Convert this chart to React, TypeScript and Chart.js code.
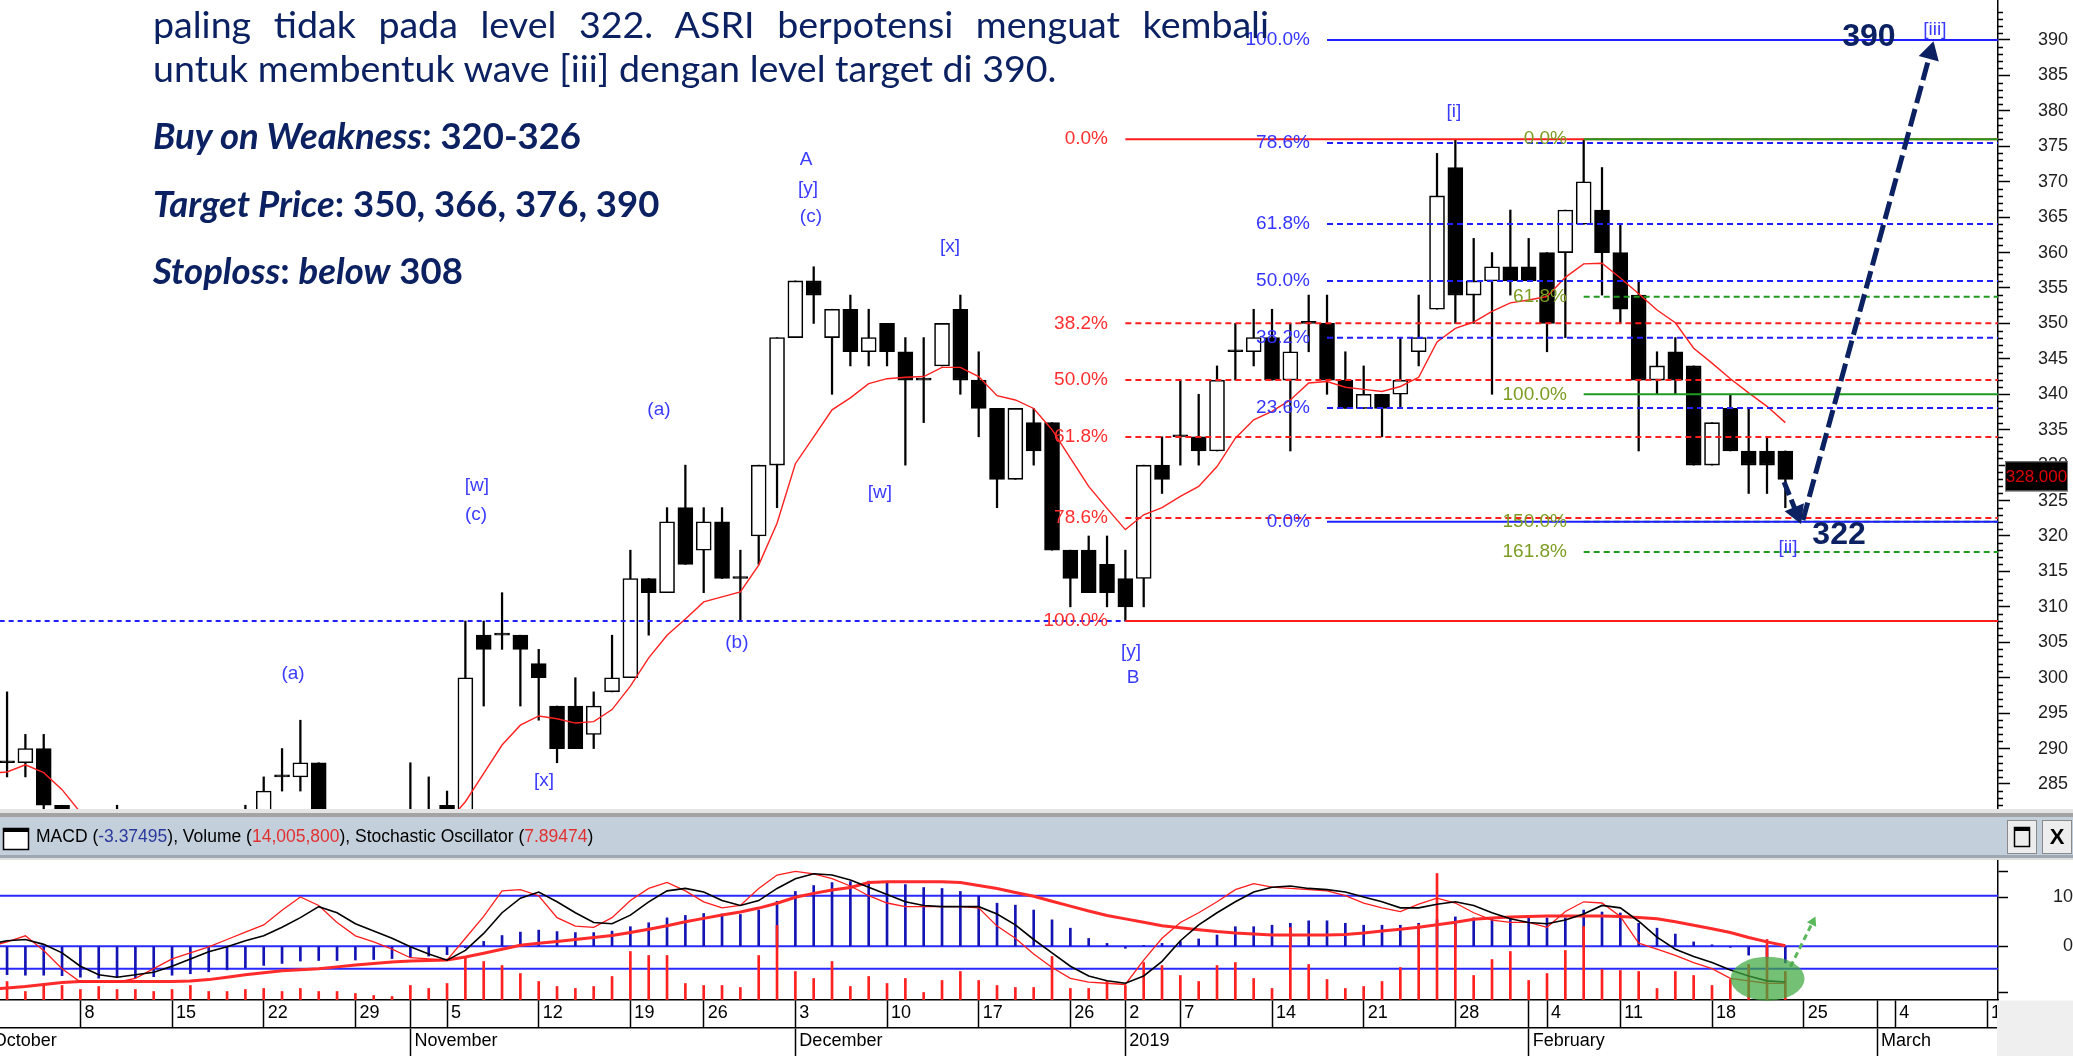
import React, { useEffect, useRef } from 'react';
import { Chart, registerables } from 'chart.js';
Chart.register(...registerables);

const FONT = "Arial, 'Liberation Sans', Helvetica, sans-serif";
const NAVY = '#0b2161';

// ---------------- DATA (trading-day index 0 = 1 Oct 2018) ----------------
const opens = [290,288,288,290,282,276,272,274,276,268,272,270,272,276,274,278,286,286,288,278,274,276,274,276,278,282,280,306,306,306,302,296,296,292,298,300,314,312,324,318,322,314,320,330,348,356,348,352,346,350,346,342,344,352,342,338,328,336,336,318,318,316,314,314,330,334,334,332,346,346,348,342,350,350,342,338,340,340,346,352,372,354,356,358,358,360,360,364,366,360,354,342,346,344,330,338,332,332,332];
const highs = [296,298,292,292,282,278,276,282,278,274,276,274,278,278,282,286,290,294,288,280,278,280,280,288,286,284,308,308,312,306,304,296,300,298,306,318,314,324,330,324,324,318,330,348,356,358,352,354,352,350,348,348,350,354,346,338,338,338,336,318,320,320,318,330,334,342,340,344,350,352,352,350,354,354,346,344,340,348,354,374,376,362,360,366,362,360,366,376,372,364,356,346,348,344,336,340,338,334,332];
const lows = [286,286,286,278,274,270,268,272,266,266,268,268,270,272,272,276,284,284,276,272,270,272,272,274,276,276,278,296,304,296,294,288,290,290,298,300,306,312,316,312,314,308,316,324,348,350,340,344,344,344,330,336,344,340,334,324,328,330,318,310,312,310,308,310,326,330,330,332,342,344,342,332,346,340,338,338,334,338,344,352,350,350,340,354,356,346,348,364,354,350,332,340,340,330,330,332,326,326,324];
const closes = [288,288,290,282,276,272,274,278,268,272,270,272,276,274,278,284,286,288,278,274,276,274,278,280,280,278,300,304,306,304,300,290,290,296,300,314,312,322,316,322,314,314,330,348,356,354,352,346,348,346,342,342,350,342,338,328,338,332,318,314,312,312,310,330,328,334,332,342,346,348,342,346,350,342,338,340,338,342,348,368,354,356,358,356,356,350,366,370,360,352,342,344,342,330,336,332,330,330,328];
const movingAvg = [286.5,286.7,287.7,286.6,284.2,281,279,278,277,276,275,274.5,274,274,274.5,275,276,277,277.5,277.5,277,277,277.5,278,278.5,279.5,282.5,286.5,290.5,293.3,294.6,294.2,293.6,293.8,295.5,298.8,302.8,306,308.3,310.7,311.4,312.1,315.9,321.8,330.2,334,337.8,339.5,341.5,342.2,342.4,342.5,343.8,343.8,342.5,339.8,339.2,338,335,331,327,323.9,320.9,323,324,325.6,327,329.8,333.8,336.4,337.6,339.2,341.6,341.8,341,340.7,340.4,341.1,342.4,347.4,349.3,350.2,351.7,352.9,353.3,353.8,356.5,358.4,358.5,356.4,354.2,351.9,350.1,346.5,344.4,342.2,340.2,338.3,336];
const volumeM = [8,9,4,8,7,5,6.5,5,5,4,5,7,4,4,5,5.5,4,5.5,4,4,3,2,1.5,7,5.5,8,21,19,17,13,9,6.5,5.5,6.5,11.5,24,22,22,8,7,7,6,22,37,14,10.5,19,6.5,11.5,8,10.5,3.5,9.5,14,9.5,7,6,6,21.5,5.5,5.5,9,7,18.5,17,12,9,17,18.5,10.5,5.5,36,17.5,10,5.5,6.5,9,16,37.5,63,37.5,12,20,24,9.5,13,24.5,36.5,15,14.5,14,5.5,14,12,7,10,17.5,30,14];
const macd = [-5.6,-5.8,-5.9,-5.9,-6,-6.3,-6.5,-6.3,-6.4,-6.2,-5.9,-5.6,-5.2,-4.8,-4.4,-3.9,-3.5,-3,-2.9,-2.9,-2.8,-2.7,-2.5,-2.3,-2,-1.7,-0.3,1,2.2,2.9,3.3,3,2.8,2.8,3.1,4,4.8,5.8,6.3,6.7,6.6,6.5,7.4,9.2,11.2,12.4,13,13.2,13.3,13.2,12.6,12,11.8,11.2,10.2,8.8,8.4,7.4,5.4,3.7,1.6,0.6,-0.4,0.2,0.6,1,1.5,2.3,4,4,4.3,4.7,5.2,5.2,4.7,4.3,4.3,4.3,4.7,5.4,6,5.8,5.8,5.8,5.8,5.8,5.8,7.4,7,6.8,4.7,3.7,2.5,0.9,0.3,-0.2,-1.8,-2.4,-3.37];
const signalLine = [-8.8,-8.5,-8.2,-7.8,-7.4,-7.2,-7.2,-7.2,-7.2,-7.2,-7.2,-7.1,-6.8,-6.3,-5.8,-5.4,-5,-4.8,-4.6,-4.2,-3.8,-3.5,-3.2,-3,-2.9,-2.8,-2.2,-1.4,-0.6,0.2,0.6,1,1.4,1.8,2.2,2.8,3.5,4.2,5,5.7,6.4,7,7.8,8.8,10,10.8,11.5,12,13,13.2,13.2,13.2,13.2,13,12.4,11.8,11,10.2,9.2,8.2,7.2,6.3,5.6,4.9,4.2,3.8,3.4,3,2.7,2.5,2.3,2.3,2.3,2.3,2.4,2.7,3.1,3.5,3.9,4.4,4.9,5.5,5.8,6,6.1,6.2,6.2,6.2,6.2,6.1,5.9,5.6,5,4.3,3.6,2.8,1.8,0.9,0.1];
const stochK = [38,42,47,35,20,9,9,9,12,20,28,33,38,44,50,56,68,79,72,58,47,42,36,29,28,27,45,63,84,85,80,62,55,54,62,76,86,91,84,75,70,72,86,97,100,98,94,88,80,74,71,71,71,71,70,55,45,32,21,12,9,8,7,27,45,58,66,75,85,90,87,86,85,84,80,74,70,67,73,78,74,66,60,58,58,54,67,75,74,63,41,36,31,25,20,12,10,8,7.89];
const stochD = [40,43,44,40,33,22,15,13,15,17,22,28,34,38,43,47,54,62,71,66,57,51,45,38,32,27,35,49,66,78,83,75,66,58,57,64,75,84,86,83,76,72,76,86,94,98,97,93,87,81,75,72,71,71,71,65,56,44,33,22,14,10,8,14,26,43,56,66,75,83,87,88,86,85,83,79,75,70,70,73,75,72,66,61,58,57,60,65,72,70,59,46,36,30,25,19,14,10,9];

const dayTickIdx = [5,10,15,20,25,30,35,39,44,49,54,59,62,65,70,75,80,85,89,94,99,104,109];
const dayTickLabels = ['8','15','22','29','5','12','19','26','3','10','17','26','2','7','14','21','28','4','11','18','25','4','11'];
const monthTickIdx = [0,23,44,62,84,103];
const monthTickLabels = ['October','November','December','2019','February','March'];
const priceTickValues = [285,290,295,300,305,310,315,320,325,330,335,340,345,350,355,360,365,370,375,380,385,390];

const fibRedLevels = [376,350.02,342,333.98,322.55,308];
const fibRedLabels = ['0.0%','38.2%','50.0%','61.8%','78.6%','100.0%'];
const fibBlueLevels = [390,375.45,364.02,356,347.98,338.05,322];
const fibBlueLabels = ['100.0%','78.6%','61.8%','50.0%','38.2%','23.6%','0.0%'];
const fibGreenLevels = [376,353.75,340,322,317.75];
const fibGreenLabels = ['0.0%','61.8%','100.0%','150.0%','161.8%'];
const stoplossLevel = 308;
const lastClose = 328;

const waveText = ['(a)','[w]','(c)','[x]','(a)','(b)','A','[y]','(c)','[x]','[w]','[y]','B','[i]','[ii]','[iii]'];
const waveIdx = [16.6,26.63,26.58,30.29,36.56,40.81,44.58,44.69,44.85,52.43,48.61,62.31,62.42,79.92,98.14,106.16];
const wavePrice = [300.53,327.06,322.97,285.43,337.78,304.9,373.07,368.97,365.02,360.79,326.07,303.63,299.96,379.84,318.31,391.41];

// ---------------- LAYOUT CONSTANTS ----------------
const X_MIN = 0.615, X_MAX = 109.6;
const P_MIN = 281.33, P_MAX = 395.645;
const M_MIN = -10.96, M_MAX = 27.82;
const S_MIN = -5.76, S_MAX = 816.6;
const V_K = 0.5; const V_MIN = -0.5 * V_K, V_MAX = 999.5 * V_K;

const idxs = closes.map((_, i) => i);

function fibLine(level: number, x0: number, color: string, dash: number[], order: number) {
  return {
    type: 'line', data: [{ x: x0, y: level }, { x: X_MAX, y: level }], borderColor: color, borderWidth: 2,
    borderDash: dash, pointRadius: 0, xAxisID: 'x', yAxisID: 'y', order, tension: 0,
  };
}

const overlayPlugin = {
  id: 'overlay',
  beforeDatasetsDraw(chart: any) {
    const ctx = chart.ctx; const yS = chart.scales.yS; const yM = chart.scales.yM;
    const right = chart.chartArea.right;
    ctx.save();
    ctx.strokeStyle = '#2a2aff'; ctx.lineWidth = 2;
    [yS.getPixelForValue(80), yM.getPixelForValue(0), yS.getPixelForValue(20)].forEach((py: number) => {
      ctx.beginPath(); ctx.moveTo(0, py); ctx.lineTo(right, py); ctx.stroke();
    });
    ctx.restore();
  },
  afterDatasetsDraw(chart: any) {
    const ctx = chart.ctx; const x = chart.scales.x; const y = chart.scales.y; const yM = chart.scales.yM;
    ctx.save();
    ctx.font = `19px ${FONT}`; ctx.textBaseline = 'middle'; ctx.textAlign = 'right';
    const drawFib = (levels: number[], labels: string[], at: number, color: string) => {
      ctx.fillStyle = color;
      levels.forEach((lv, i) => ctx.fillText(labels[i], x.getPixelForValue(at), y.getPixelForValue(lv)));
    };
    drawFib(fibRedLevels, fibRedLabels, 61.05, '#ff2e2e');
    drawFib(fibBlueLevels, fibBlueLabels, 72.07, '#3535ff');
    drawFib(fibGreenLevels, fibGreenLabels, 86.09, '#7c9d22');
    ctx.textAlign = 'center'; ctx.fillStyle = '#3b3bff';
    waveText.forEach((t, i) => ctx.fillText(t, x.getPixelForValue(waveIdx[i]), y.getPixelForValue(wavePrice[i])));
    ctx.font = `bold 32px ${FONT}`; ctx.fillStyle = NAVY;
    ctx.fillText('390', x.getPixelForValue(102.56), y.getPixelForValue(390.42));
    ctx.fillText('322', x.getPixelForValue(100.93), y.getPixelForValue(320.14));
    // green highlight ellipse on the oscillator
    ctx.fillStyle = 'rgba(62, 168, 62, 0.72)';
    ctx.beginPath();
    ctx.ellipse(x.getPixelForValue(97.03), yM.getPixelForValue(-6.61), 37, 22, 0, 0, Math.PI * 2);
    ctx.fill();
    ctx.restore();
  },
  afterDraw(chart: any) {
    const ctx = chart.ctx; const y = chart.scales.y; const right = chart.chartArea.right;
    const W = chart.width;
    ctx.save();
    ctx.strokeStyle = '#000'; ctx.lineWidth = 1.5;
    for (let v = 282; v <= 395; v++) {
      if (v % 5 === 0) continue;
      const py = Math.round(y.getPixelForValue(v)) + 0.5;
      ctx.beginPath(); ctx.moveTo(right, py); ctx.lineTo(right + 5, py); ctx.stroke();
    }
    const py = y.getPixelForValue(lastClose) - 3;
    ctx.fillStyle = '#000'; ctx.fillRect(2005, py - 15, 63, 30);
    ctx.strokeStyle = '#777'; ctx.lineWidth = 1; ctx.strokeRect(2005.5, py - 14.5, 62, 29);
    ctx.fillStyle = '#e00000'; ctx.font = `17px ${FONT}`; ctx.textAlign = 'center'; ctx.textBaseline = 'middle';
    ctx.fillText('328.000', 2036.5, py + 1);
    ctx.fillStyle = '#e4e4e4'; ctx.fillRect(0, 809, W, 4);
    ctx.fillStyle = '#a3a3a3'; ctx.fillRect(0, 813, W, 4);
    ctx.fillStyle = '#c3cfdb'; ctx.fillRect(0, 817, W, 38);
    ctx.fillStyle = '#9ea7b2'; ctx.fillRect(0, 855, W, 3);
    ctx.fillStyle = '#dedede'; ctx.fillRect(0, 858, W, 2);
    ctx.fillStyle = '#fff'; ctx.fillRect(3, 828, 26, 22);
    ctx.strokeStyle = '#000'; ctx.lineWidth = 1.5; ctx.strokeRect(3.5, 828.5, 25, 21);
    ctx.fillStyle = '#000'; ctx.fillRect(3, 828, 26, 4);
    ctx.font = `17.5px ${FONT}`; ctx.textAlign = 'left'; ctx.textBaseline = 'alphabetic';
    const parts: [string, string][] = [['MACD (', '#000'], ['-3.37495', '#2a3a9c'], ['), Volume (', '#000'], ['14,005,800', '#e23030'], ['), Stochastic Oscillator (', '#000'], ['7.89474', '#e23030'], [')', '#000']];
    let tx = 36;
    parts.forEach(([s, c]) => { ctx.fillStyle = c; ctx.fillText(s, tx, 842); tx += ctx.measureText(s).width; });
    [[2007, 820], [2042, 820]].forEach(([bx, by]) => {
      ctx.fillStyle = '#ededed'; ctx.fillRect(bx, by, 30, 34);
      ctx.strokeStyle = '#8a8a8a'; ctx.lineWidth = 1; ctx.strokeRect(bx + 0.5, by + 0.5, 29, 33);
    });
    ctx.strokeStyle = '#000'; ctx.lineWidth = 1.5; ctx.strokeRect(2014.5, 827.5, 15, 19);
    ctx.fillStyle = '#000'; ctx.fillRect(2014, 827, 16, 4);
    ctx.font = `bold 22px ${FONT}`; ctx.textAlign = 'center'; ctx.textBaseline = 'middle';
    ctx.fillText('X', 2057, 838);
    ctx.fillStyle = '#efefef'; ctx.fillRect(right - 1, 1000.5, W - right + 1, 56);
    ctx.restore();
  },
};

function buildConfig(): any {
  const bodyColors = idxs.map(i => (closes[i] > opens[i] ? '#ffffff' : '#000000'));
  const datasets: any[] = [];
  fibRedLevels.forEach((lv, i) => datasets.push(fibLine(lv, 62, '#ff1c1c', i === 0 || i === fibRedLevels.length - 1 ? [] : [6, 4], 2)));
  fibBlueLevels.forEach((lv, i) => datasets.push(fibLine(lv, 73, '#1f1fff', i === 0 || i === fibBlueLevels.length - 1 ? [] : [6, 4], 2)));
  fibGreenLevels.forEach((lv, i) => datasets.push(fibLine(lv, 87, '#229a22', i === 0 || i === 2 ? [] : [6, 4], lv === 322 ? 3 : 1)));
  datasets.push({ type: 'line', data: [{ x: X_MIN - 1, y: stoplossLevel }, { x: 62, y: stoplossLevel }], borderColor: '#2020ff', borderWidth: 2, borderDash: [5, 4], pointRadius: 0, xAxisID: 'x', yAxisID: 'y', order: 2 });
  datasets.push({ type: 'line', data: [{ x: 97.93, y: 327.62 }, { x: 98.61, y: 323.27 }], borderColor: NAVY, borderWidth: 5, borderDash: [14, 5], pointRadius: [0, 12], pointStyle: 'triangle', pointRotation: [0, 158], pointBackgroundColor: NAVY, pointBorderWidth: 0, xAxisID: 'x', yAxisID: 'y', order: 0 });
  datasets.push({ type: 'line', data: [{ x: 98.96, y: 322.26 }, { x: 105.91, y: 388.18 }], borderColor: NAVY, borderWidth: 5, borderDash: [18, 6], pointRadius: [0, 12], pointStyle: 'triangle', pointRotation: [0, 15.25], pointBackgroundColor: NAVY, pointBorderWidth: 0, xAxisID: 'x', yAxisID: 'y', order: 0 });
  // small green dashed arrow on the oscillator
  datasets.push({ type: 'line', data: [{ x: 98.28, y: -4.16 }, { x: 99.5, y: 5.0 }], borderColor: '#5cb85c', borderWidth: 3, borderDash: [6, 4], pointRadius: [0, 6], pointStyle: 'triangle', pointRotation: [0, 26], pointBackgroundColor: '#5cb85c', pointBorderWidth: 0, xAxisID: 'x', yAxisID: 'yM', order: 0 });
  datasets.push({ type: 'line', data: idxs.map(i => ({ x: i, y: movingAvg[i] })), borderColor: '#ff2020', borderWidth: 1.4, pointRadius: 0, tension: 0, xAxisID: 'x', yAxisID: 'y', order: 3 });
  datasets.push({ type: 'bar', data: idxs.map(i => ({ x: i, y: [opens[i], closes[i]] })), backgroundColor: bodyColors, borderColor: '#000', borderWidth: 1.6, borderSkipped: false, barThickness: 15, minBarLength: 2, grouped: false, xAxisID: 'x', yAxisID: 'y', order: 5 });
  datasets.push({ type: 'bar', data: idxs.map(i => ({ x: i, y: [lows[i], highs[i]] })), backgroundColor: '#000', borderWidth: 0, barThickness: 1.6, grouped: false, xAxisID: 'x', yAxisID: 'y', order: 6 });
  datasets.push({ type: 'line', data: idxs.map(i => ({ x: i, y: stochD[i] })), borderColor: '#000', borderWidth: 1.6, pointRadius: 0, tension: 0, xAxisID: 'x', yAxisID: 'yS', order: 7 });
  datasets.push({ type: 'line', data: idxs.map(i => ({ x: i, y: stochK[i] })), borderColor: '#ff1c1c', borderWidth: 1.3, pointRadius: 0, tension: 0, xAxisID: 'x', yAxisID: 'yS', order: 8 });
  datasets.push({ type: 'line', data: idxs.map(i => ({ x: i, y: signalLine[i] })), borderColor: '#ff2a2a', borderWidth: 3, pointRadius: 0, tension: 0, xAxisID: 'x', yAxisID: 'yM', order: 9 });
  datasets.push({ type: 'bar', data: idxs.map(i => ({ x: i, y: volumeM[i] })), backgroundColor: '#ff2020', barThickness: 2, grouped: false, xAxisID: 'x', yAxisID: 'yV', order: 10 });
  datasets.push({ type: 'bar', data: idxs.map(i => ({ x: i, y: macd[i] })), backgroundColor: '#1414b4', barThickness: 2, grouped: false, xAxisID: 'x', yAxisID: 'yM', order: 11 });

  const dayMap = new Map<number, string>();
  dayTickIdx.forEach((v, i) => dayMap.set(v, dayTickLabels[i]));
  const monthMap = new Map<number, string>();
  monthTickIdx.forEach((v, i) => monthMap.set(v, monthTickLabels[i]));
  const dayAndBoundary = Array.from(new Set([...dayTickIdx, ...monthTickIdx.filter(v => v > 0)])).sort((a, b) => a - b);

  const xCommon = (ticksArr: number[], map: Map<number, string>, weight: number) => ({
    type: 'linear', position: 'bottom', min: X_MIN, max: X_MAX, offset: false, bounds: 'data', weight,
    grid: { offset: false, drawOnChartArea: false, drawTicks: true, tickLength: 28, tickColor: '#000', tickWidth: 1.5, color: '#000' },
    border: { display: true, color: '#000', width: 1.5 },
    ticks: { autoSkip: false, maxRotation: 0, minRotation: 0, align: 'start', padding: -26, labelOffset: 4, color: '#000', font: { size: 18, family: FONT }, callback: (v: number) => map.get(v) ?? '' },
    afterBuildTicks: (s: any) => { s.ticks = ticksArr.map(v => ({ value: v })); },
    afterFit: (s: any) => { s.height = 28; s.paddingLeft = 0; s.paddingRight = 0; s.paddingTop = 0; s.paddingBottom = 0; },
  });

  return {
    type: 'bar',
    data: { datasets },
    options: {
      responsive: false, maintainAspectRatio: false, animation: false, devicePixelRatio: 1, events: [],
      layout: { padding: 0, autoPadding: false },
      plugins: { legend: { display: false }, tooltip: { enabled: false }, title: { display: false } },
      scales: {
        x: xCommon(dayAndBoundary, dayMap, 0),
        x2: xCommon(monthTickIdx, monthMap, 1),
        y: {
          type: 'linear', position: 'right', stack: 'right', stackWeight: 810, min: P_MIN, max: P_MAX, bounds: 'data',
          grid: { drawOnChartArea: false, drawTicks: true, tickLength: 12, tickColor: '#000', tickWidth: 1.5 },
          border: { display: true, color: '#000', width: 1.5 },
          ticks: { autoSkip: false, padding: 28, color: '#1e1e1e', font: { size: 18, family: FONT }, crossAlign: 'near', callback: (v: number) => String(v) },
          afterBuildTicks: (s: any) => { s.ticks = priceTickValues.map(v => ({ value: v })); },
          afterFit: (s: any) => { s.width = 75; s.paddingTop = 0; s.paddingBottom = 0; s.paddingLeft = 0; s.paddingRight = 0; },
        },
        yM: {
          type: 'linear', position: 'right', stack: 'right', stackWeight: 190, min: M_MIN, max: M_MAX, bounds: 'data',
          grid: { drawOnChartArea: false, drawTicks: true, tickLength: 10, tickColor: '#000', tickWidth: 1.5 },
          border: { display: true, color: '#000', width: 1.5 },
          ticks: { autoSkip: false, padding: 40, color: '#1e1e1e', font: { size: 18, family: FONT }, crossAlign: 'far', callback: (v: number) => (v === 10 ? '10' : v === 0 ? '0' : '') },
          afterBuildTicks: (s: any) => { s.ticks = [15.29, 10, 0, -9.53].map(v => ({ value: v })); },
          afterFit: (s: any) => { s.width = 75; s.paddingTop = 0; s.paddingBottom = 0; s.paddingLeft = 0; s.paddingRight = 0; },
        },
        yS: { type: 'linear', display: false, position: 'right', min: S_MIN, max: S_MAX, bounds: 'data' },
        yV: { type: 'linear', display: false, position: 'right', min: V_MIN, max: V_MAX, bounds: 'data' },
      },
    },
    plugins: [overlayPlugin],
  };
}

const textBase: React.CSSProperties = {
  position: 'absolute', left: 153, color: NAVY, fontFamily: "Lato, 'Noto Sans', sans-serif", lineHeight: 1.2, whiteSpace: 'nowrap', margin: 0,
};

export default function App() {
  const ref = useRef<HTMLCanvasElement>(null);
  useEffect(() => {
    if (!ref.current) return;
    const chart = new Chart(ref.current, buildConfig());
    return () => chart.destroy();
  }, []);
  return (
    <div style={{ position: 'fixed', left: 0, top: 0, width: 2073, height: 1056, background: '#fff', overflow: 'hidden' }}>
      <canvas ref={ref} width={2073} height={1056} style={{ position: 'absolute', left: 0, top: 0, width: 2073, height: 1056 }} />
      <div style={{ ...textBase, top: 1, fontSize: 37.6, width: 1116, whiteSpace: 'normal', textAlign: 'justify', textAlignLast: 'justify' as any }}>
        paling tidak pada level 322. ASRI berpotensi menguat kembali
      </div>
      <div style={{ ...textBase, top: 45, fontSize: 37.6 }}>untuk membentuk wave [iii] dengan level target di 390.</div>
      <div style={{ ...textBase, top: 114, fontSize: 36.5, fontWeight: 700 }}><i>Buy on Weakness</i>: 320-326</div>
      <div style={{ ...textBase, top: 182, fontSize: 36.5, fontWeight: 700 }}><i>Target Price</i>: 350, 366, 376, 390</div>
      <div style={{ ...textBase, top: 249, fontSize: 36.5, fontWeight: 700 }}><i>Stoploss</i>: <i>below</i> 308</div>
    </div>
  );
}
